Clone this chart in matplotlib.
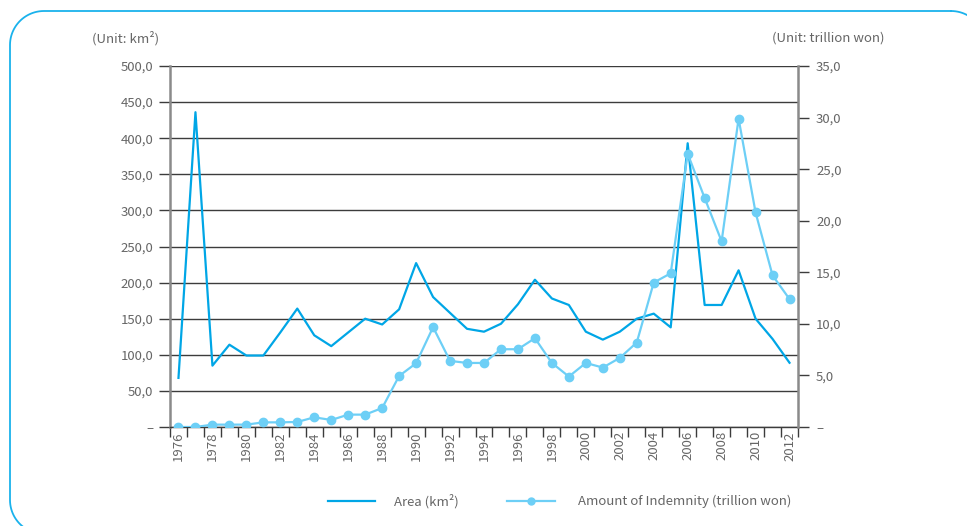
import matplotlib
matplotlib.use("Agg")
import numpy as np
import matplotlib.pyplot as plt
from matplotlib.lines import Line2D
from matplotlib.ticker import FixedLocator, FuncFormatter

plt.rcParams['font.family'] = ['Noto Sans CJK KR', 'DejaVu Sans']

years = list(range(1976, 2013))
area_km2 = [68, 436, 85, 114, 99, 99, 131, 164, 127, 112, 131, 150, 142, 163,
            227, 180, 158, 136, 132, 143, 170, 204, 178, 169, 132, 121, 132,
            150, 157, 138, 393, 169, 169, 217, 150, 122, 89]
indemnity_trillion = [0.0, 0.0, 0.23, 0.23, 0.23, 0.45, 0.45, 0.49, 0.94, 0.68,
                      1.2, 1.2, 1.84, 4.95, 6.18, 9.68, 6.41, 6.21, 6.21, 7.54,
                      7.54, 8.61, 6.21, 4.89, 6.21, 5.76, 6.7, 8.19, 14.0, 14.9,
                      26.5, 22.2, 18.0, 29.9, 20.8, 14.7, 12.4]
left_ticks = [0, 50, 100, 150, 200, 250, 300, 350, 400, 450, 500]
right_ticks = [0, 5, 10, 15, 20, 25, 30, 35]

AREA_C = '#00a6e6'
IND_C = '#6dcff6'
TEXT_C = '#666666'
GRID_C = '#3c3c3c'
SPINE_C = '#8a8a8a'

W, H = 967, 526
fig = plt.figure(figsize=(W / 100, H / 100), dpi=100)


def rounded_frame(x0, y0, x1, y1, r, n=24):
    """Outline of a rounded rectangle in pixel units (y measured from top)."""
    pts = []
    corners = [((x1 - r, y0 + r), -90, 0),     # top-right
               ((x1 - r, y1 - r), 0, 90),      # bottom-right
               ((x0 + r, y1 - r), 90, 180),    # bottom-left
               ((x0 + r, y0 + r), 180, 270)]   # top-left
    for (cx, cy), a0, a1 in corners:
        a = np.radians(np.linspace(a0, a1, n))
        pts += list(zip(cx + r * np.cos(a), cy + r * np.sin(a)))
    pts.append(pts[0])
    px = np.array([p[0] for p in pts]) / W
    py = 1 - np.array([p[1] for p in pts]) / H
    return px, py


fx, fy = rounded_frame(10, 11, 985, 534, 34)
fig.add_artist(Line2D(fx, fy, color='#1ab2ec', lw=1.3,
                      transform=fig.transFigure, clip_on=False))

ax = fig.add_axes([170 / W, 1 - 427 / H, (798 - 170) / W, (427 - 66) / H])
ax2 = ax.twinx()

x = list(range(len(years)))


def fmt(v, pos):
    if abs(v) < 1e-9:
        return '–'
    return f"{v:.1f}".replace('.', ',')


# left axis: area
ax.set_ylim(0, 500)
ax.set_xlim(-0.5, len(years) - 0.5)
ax.yaxis.set_major_locator(FixedLocator(left_ticks))
ax.yaxis.set_major_formatter(FuncFormatter(fmt))
for t in left_ticks:
    ax.axhline(t, color=GRID_C, lw=1.0, zorder=1)
ax.plot(x, area_km2, color=AREA_C, lw=1.6, zorder=3)

ax.tick_params(axis='y', direction='out', length=8, width=1.0, color=GRID_C,
               labelcolor=TEXT_C, labelsize=9.5, pad=4)

# category axis: ticks between years, labels every second year
ax.xaxis.set_major_locator(FixedLocator([i - 0.5 for i in range(len(years) + 1)]))
ax.xaxis.set_major_formatter(FuncFormatter(lambda v, p: ''))
ax.xaxis.set_minor_locator(FixedLocator(x[::2]))
ax.xaxis.set_minor_formatter(FuncFormatter(lambda v, p: str(years[int(round(v))])))
ax.tick_params(axis='x', which='major', direction='out', length=7, width=1.0,
               color=GRID_C)
ax.tick_params(axis='x', which='minor', length=0, labelsize=9.5,
               labelcolor=TEXT_C, labelrotation=90, pad=3)

for s in ['top', 'right']:
    ax.spines[s].set_visible(False)
ax.spines['left'].set_color(SPINE_C)
ax.spines['left'].set_linewidth(1.8)
ax.spines['bottom'].set_color(GRID_C)
ax.spines['bottom'].set_linewidth(1.0)

# right axis: indemnity
ax2.set_ylim(0, 35)
ax2.yaxis.set_major_locator(FixedLocator(right_ticks))
ax2.yaxis.set_major_formatter(FuncFormatter(fmt))
ax2.plot(x, indemnity_trillion, color=IND_C, lw=1.6, marker='o',
         markersize=6, zorder=4)
ax2.tick_params(axis='y', direction='out', length=8, width=1.0, color=GRID_C,
                labelcolor=TEXT_C, labelsize=9.5, pad=5)
for s in ['top', 'left', 'bottom']:
    ax2.spines[s].set_visible(False)
ax2.spines['right'].set_color(SPINE_C)
ax2.spines['right'].set_linewidth(1.8)

# unit captions
fig.text(92 / W, 1 - 38 / H, '(Unit: km²)', fontsize=9.5, color=TEXT_C,
         ha='left', va='center')
fig.text(885 / W, 1 - 38 / H, '(Unit: trillion won)', fontsize=9.5,
         color=TEXT_C, ha='right', va='center')

# legend
ly = 1 - 501 / H
fig.add_artist(Line2D([328 / W, 375 / W], [ly, ly], color=AREA_C, lw=1.6,
                      transform=fig.transFigure))
fig.text(394 / W, ly, 'Area (km²)', fontsize=9.5, color=TEXT_C,
         ha='left', va='center')
fig.add_artist(Line2D([507 / W, 555 / W], [ly, ly], color=IND_C, lw=1.6,
                      transform=fig.transFigure))
fig.add_artist(Line2D([531 / W], [ly], color=IND_C, marker='o', markersize=5,
                      transform=fig.transFigure))
fig.text(578 / W, ly, 'Amount of Indemnity (trillion won)', fontsize=9.5,
         color=TEXT_C, ha='left', va='center')

fig.savefig('out.png', dpi=100)
